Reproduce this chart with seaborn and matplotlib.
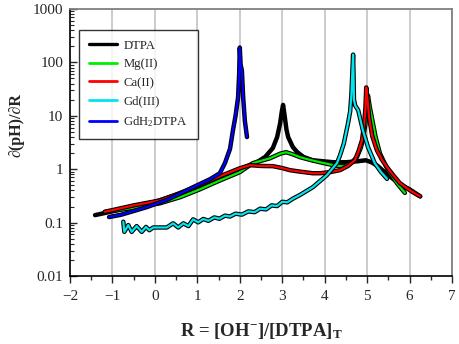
import numpy as np
import pandas as pd
import matplotlib
matplotlib.use("Agg")
import matplotlib.pyplot as plt
import matplotlib.patheffects as pe
from matplotlib.lines import Line2D
from matplotlib.ticker import FixedLocator, FixedFormatter, LogLocator, NullFormatter, MultipleLocator
import seaborn as sns

# ---------------- data ----------------
series_names = ["DTPA", "Mg(II)", "Ca(II)", "Gd(III)", "GdH$_2$DTPA"]
series_colors = ["#000000", "#00ee00", "#ff0000", "#00e5ee", "#0000ff"]

dtpa_x = [-1.41, -1.2, -1.0, -0.5, 0.0, 0.5, 1.0, 1.5, 2.0, 2.4, 2.6, 2.78, 2.88, 2.95, 2.99, 3.02,
          3.05, 3.1, 3.14, 3.25, 3.35, 3.5, 3.72, 4.2, 4.5, 4.75, 4.97, 5.1, 5.25, 5.4, 5.55,
          5.7, 5.85, 6.0, 6.15, 6.25]
dtpa_y = [0.138, 0.15, 0.163, 0.2, 0.245, 0.33, 0.46, 0.68, 1.0, 1.35, 1.7, 2.5, 4.0, 7.2, 12.0, 16.0,
          11.0, 5.5, 4.0, 2.6, 2.1, 1.7, 1.47, 1.35, 1.35, 1.4, 1.47, 1.35, 1.15, 0.9, 0.72,
          0.58, 0.48, 0.42, 0.35, 0.31]

mg_x = [-1.18, -1.0, -0.5, 0.12, 0.6, 1.06, 1.5, 2.0, 2.31, 2.71, 2.95, 3.09, 3.25, 3.42, 3.65, 3.89,
        4.2, 4.45, 4.62, 4.76, 4.85, 4.9, 4.96, 5.0, 5.02, 5.06, 5.11, 5.2, 5.3, 5.4, 5.49, 5.6,
        5.7, 5.8, 5.89]
mg_y = [0.157, 0.165, 0.19, 0.23, 0.3, 0.42, 0.6, 0.88, 1.3, 1.6, 1.95, 2.08, 1.9, 1.68, 1.5, 1.35,
        1.19, 1.12, 1.3, 1.68, 2.5, 3.5, 7.0, 15.0, 24.0, 15.0, 9.4, 4.0, 2.0, 1.35, 0.96, 0.72,
        0.55, 0.44, 0.36]

ca_x = [-1.18, -0.99, -0.5, 0.12, 0.6, 1.06, 1.5, 2.0, 2.24, 2.5, 2.78, 3.0, 3.18, 3.42, 3.72, 3.89,
        4.12, 4.36, 4.55, 4.71, 4.8, 4.88, 4.93, 4.96, 4.98, 5.01, 5.05, 5.12, 5.23, 5.35, 5.47,
        5.6, 5.77, 5.92, 6.08, 6.25]
ca_y = [0.16, 0.172, 0.21, 0.26, 0.36, 0.5, 0.72, 1.04, 1.19, 1.15, 1.14, 1.05, 0.96, 0.9, 0.84, 0.84,
        0.88, 0.96, 1.15, 1.47, 2.2, 3.5, 7.0, 14.0, 34.0, 20.0, 9.0, 4.2, 2.27, 1.5, 1.09,
        0.8, 0.55, 0.45, 0.37, 0.31]

gd_x = [-0.744, -0.72, -0.627, -0.547, -0.43, -0.31, -0.21, -0.13, -0.04, 0.28, 0.43, 0.55, 0.67,
        0.79, 0.9, 1.02, 1.14, 1.26, 1.4, 1.52, 1.65, 1.77, 1.9, 2.05, 2.2, 2.35, 2.48, 2.62, 2.75,
        2.88, 3.0, 3.12, 3.25, 3.42, 3.72, 4.05, 4.29, 4.36, 4.45, 4.55, 4.6, 4.63, 4.65, 4.67,
        4.68, 4.69, 4.72, 4.79, 4.9, 5.02, 5.18, 5.32, 5.47]
gd_y = [0.104, 0.067, 0.09, 0.067, 0.086, 0.067, 0.083, 0.072, 0.081, 0.081, 0.097, 0.081, 0.097,
        0.086, 0.115, 0.101, 0.117, 0.108, 0.125, 0.118, 0.135, 0.13, 0.147, 0.141, 0.162, 0.157, 0.182,
        0.177, 0.21, 0.204, 0.245, 0.24, 0.28, 0.33, 0.46, 0.77, 1.3, 1.8, 3.0, 7.2, 12.0, 25.0, 60.0,
        140.0, 60.0, 20.0, 15.5, 12.7, 5.35, 2.6, 1.3, 0.9, 0.66]

gdh2_x = [-1.08, -0.8, -0.19, 0.3, 0.9, 1.3, 1.53, 1.65, 1.77, 1.84, 1.9, 1.96, 1.985, 2.0, 2.02,
          2.05, 2.08, 2.12, 2.17]
gdh2_y = [0.127, 0.14, 0.195, 0.27, 0.46, 0.65, 0.84, 1.3, 2.4, 5.4, 10.0, 22.0, 60.0, 190.0, 90.0,
          70.0, 22.0, 8.0, 4.0]

xs = [dtpa_x, mg_x, ca_x, gd_x, gdh2_x]
ys = [dtpa_y, mg_y, ca_y, gd_y, gdh2_y]

x_ticks = [-2, -1, 0, 1, 2, 3, 4, 5, 6, 7]
y_ticks = [0.01, 0.1, 1, 10, 100, 1000]
y_tick_labels = ["0.01", "0.1", "1", "10", "100", "1000"]

# ---------------- plotting ----------------
sns.set_style("white")
plt.rcParams["font.family"] = ["Liberation Serif", "DejaVu Serif"]
plt.rcParams["mathtext.fontset"] = "custom"
plt.rcParams["mathtext.rm"] = "Liberation Serif"
plt.rcParams["mathtext.it"] = "Liberation Serif:italic"
plt.rcParams["mathtext.bf"] = "Liberation Serif:bold"

fig = plt.figure(figsize=(4.59, 3.44), dpi=100)
ax = fig.add_axes([70 / 459, 1 - 276 / 344, 382 / 459, 267 / 344])

for xv in x_ticks:
    ax.axvline(xv, color="#c8c8c8", lw=1.3, zorder=0)

handles = []
for i, (name, col, xv, yv) in enumerate(zip(series_names, series_colors, xs, ys)):
    df = pd.DataFrame({"R": xv, "d": yv})
    if i == 0:
        sns.lineplot(data=df, x="R", y="d", ax=ax, color=col, lw=3.2, sort=False,
                     estimator=None, zorder=2 + i)
        h = Line2D([], [], color=col, lw=2.4)
    else:
        sns.lineplot(data=df, x="R", y="d", ax=ax, color=col, lw=1.6, sort=False,
                     estimator=None, zorder=2 + i)
        ax.lines[-1].set_path_effects([pe.Stroke(linewidth=3.2, foreground="black"), pe.Normal()])
        h = Line2D([], [], color=col, lw=2.0)
    handles.append(h)

ax.set_yscale("log")
ax.set_xlim(-2, 7)
ax.set_ylim(0.01, 1000)
ax.xaxis.set_major_locator(FixedLocator(x_ticks))
ax.xaxis.set_minor_locator(MultipleLocator(0.5))
ax.yaxis.set_major_locator(FixedLocator(y_ticks))
ax.yaxis.set_major_formatter(FixedFormatter(y_tick_labels))
ax.yaxis.set_minor_locator(LogLocator(base=10, subs=np.arange(2, 10)))
ax.yaxis.set_minor_formatter(NullFormatter())

ax.tick_params(axis="x", which="major", direction="out", length=5, width=1, labelsize=11, pad=5,
               bottom=True)
ax.tick_params(axis="x", which="minor", direction="out", length=3, width=1, bottom=True)
ax.tick_params(axis="y", which="major", direction="in", length=5, width=1, labelsize=11, pad=5,
               left=True)
ax.tick_params(axis="y", which="minor", direction="in", length=3, width=0.8, left=True)

for s in ["left", "bottom"]:
    ax.spines[s].set_color("black")
    ax.spines[s].set_linewidth(1.2)
for s in ["top", "right"]:
    ax.spines[s].set_color("#808080")
    ax.spines[s].set_linewidth(1.3)

ax.set_xlabel("R = [OH$^{\\mathbf{-}}$]/[DTPA]$_{\\mathbf{T}}$", fontsize=13.5, fontweight="bold")
ax.xaxis.set_label_coords(0.5, -0.168)
ax.set_ylabel("\u2202(pH)/\u2202R", fontsize=11.5, fontweight="bold")
ax.yaxis.set_label_coords(-0.12, 0.566)

leg = ax.legend(handles, series_names, loc="upper left", bbox_to_anchor=(0.024, 0.921),
                frameon=True, fancybox=False, edgecolor="black", fontsize=9.2,
                handlelength=2.2, handletextpad=0.5, labelspacing=0.52, borderpad=0.75,
                borderaxespad=0)
leg.get_frame().set_linewidth(1.0)
leg.get_frame().set_facecolor("white")

fig.savefig("out.png", dpi=100)
